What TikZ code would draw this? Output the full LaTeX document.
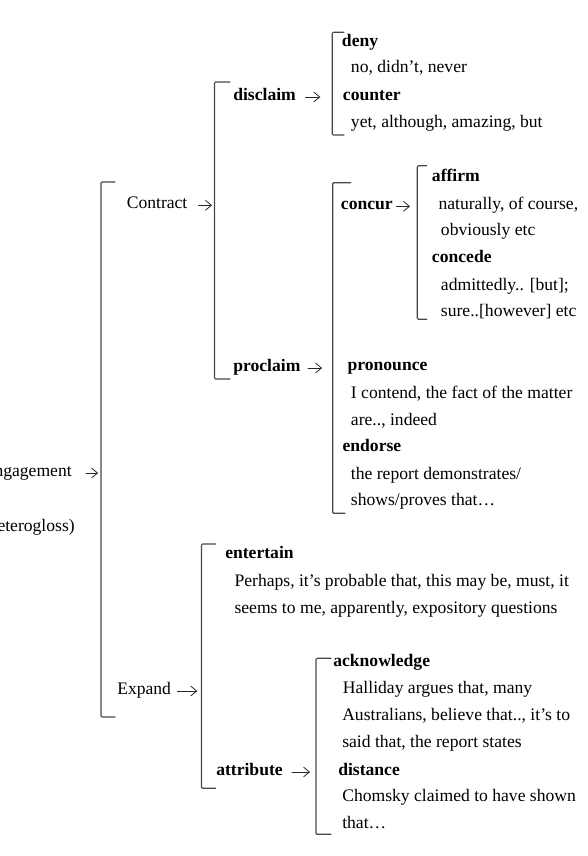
\documentclass[tikz,border=0pt]{standalone}
\usepackage{fontspec}
\setmainfont{Liberation Serif}
\usepackage{tikz}
\usetikzlibrary{arrows.meta}
\tikzset{
  every picture/.append style={line cap=round,line join=round},
  sys bracket/.style={black!72,line width=0.85pt,rounded corners=0.8pt},
  sys text/.style={inner sep=0pt,anchor=base west,text height=7pt,text depth=2.5pt,font=\fontsize{13.2pt}{20pt}\selectfont},
  sys term/.style={sys text,font=\fontsize{13.2pt}{20pt}\selectfont\bfseries},
  sys arrow/.style={black!85,line width=0.6pt,-{Straight Barb[length=4.4pt,width=7.4pt]}}
}
\begin{document}
\begin{tikzpicture}[x=0.75pt,y=-0.75pt]
\useasboundingbox (0,0) rectangle (587,856);
\coordinate (eng top) at (101,182);   \coordinate (eng bot) at (101,717);
\coordinate (con top) at (214.5,82);  \coordinate (con bot) at (214.5,379);
\coordinate (dis top) at (332.3,32.3);\coordinate (dis bot) at (332.3,135);
\coordinate (pro top) at (332.7,182.7);\coordinate (pro bot) at (332.7,513.3);
\coordinate (ccr top) at (417.3,165.7);\coordinate (ccr bot) at (417.3,319.3);
\coordinate (exp top) at (201.5,544); \coordinate (exp bot) at (201.5,788.3);
\coordinate (att top) at (316,658.3); \coordinate (att bot) at (316,834.3);
\draw[sys bracket] (115,182) -- (eng top) -- (eng bot) -- (115,717);
\draw[sys bracket] (230,82) -- (con top) -- (con bot) -- (230,379);
\draw[sys bracket] (344,32.3) -- (dis top) -- (dis bot) -- (344,135);
\draw[sys bracket] (350.7,182.7) -- (pro top) -- (pro bot) -- (345,513.3);
\draw[sys bracket] (426.7,165.7) -- (ccr top) -- (ccr bot) -- (426.7,319.3);
\draw[sys bracket] (215.7,544) -- (exp top) -- (exp bot) -- (215.7,788.3);
\draw[sys bracket] (331,658.3) -- (att top) -- (att bot) -- (331,834.3);

\node[sys text,anchor=base east] (engagement) at (72,476) {Engagement};
\node[sys text,anchor=base east] (heterogloss) at (75,531) {(heterogloss)};
\node[sys text] (contract) at (126.5,208.3) {Contract};
\node[sys text] (expand) at (117,694) {Expand};

\node[sys term] (disclaim) at (233,100) {disclaim};
\node[sys term] (proclaim) at (233,371) {proclaim};
\node[sys term] (entertain) at (225,558.7) {entertain};
\node[sys term] (attribute) at (216,775) {attribute};

\node[sys term] (deny) at (341.7,46.7) {deny};
\node[sys text] (deny ex) at (350.7,72.5) {no, didn’t, never};
\node[sys term] (counter) at (342.7,100) {counter};
\node[sys text] (counter ex) at (350.7,127) {yet, although, amazing, but};

\node[sys term] (concur) at (340.7,209.3) {concur};
\node[sys term] (affirm) at (431.7,181.7) {affirm};
\node[sys text] (affirm ex a) at (438.3,209.3) {naturally, of course,};
\node[sys text] (affirm ex b) at (440.7,235.5) {obviously etc};
\node[sys term] (concede) at (431.7,262.7) {concede};
\node[sys text] (concede ex a) at (440.7,290) {admittedly.. [but];};
\node[sys text] (concede ex b) at (440.7,316) {sure..[however] etc};

\node[sys term] (pronounce) at (347.3,370.7) {pronounce};
\node[sys text] (pronounce ex a) at (350.7,398.3) {I contend, the fact of the matter};
\node[sys text] (pronounce ex b) at (350.7,425) {are.., indeed};
\node[sys term] (endorse) at (342.3,451.7) {endorse};
\node[sys text] (endorse ex a) at (350.7,479.3) {the report demonstrates/};
\node[sys text] (endorse ex b) at (350.7,505) {shows/proves that…};

\node[sys text] (entertain ex a) at (234.3,586.3) {Perhaps, it’s probable that, this may be, must, it};
\node[sys text] (entertain ex b) at (234.3,613) {seems to me, apparently, expository questions};

\node[sys term] (acknowledge) at (333,666.7) {acknowledge};
\node[sys text] (acknowledge ex a) at (342.7,693.3) {Halliday argues that, many};
\node[sys text] (acknowledge ex b) at (342,720) {Australians, believe that.., it’s to};
\node[sys text] (acknowledge ex c) at (342,747.3) {said that, the report states};
\node[sys term] (distance) at (338,775) {distance};
\node[sys text] (distance ex a) at (342,801.7) {Chomsky claimed to have shown};
\node[sys text] (distance ex b) at (342,828.3) {that…};

\draw[sys arrow,shorten <=10.5pt,shorten >=2.2pt] (engagement.east) -- (engagement.east -| eng top);
\draw[sys arrow,shorten <=8.2pt,shorten >=1.9pt] (contract.east) -- (contract.east -| con top);
\draw[sys arrow,shorten <=4.5pt,shorten >=3.2pt] (expand.east) -- (expand.east -| exp top);
\draw[sys arrow,shorten <=7pt,shorten >=9pt] (disclaim.east) -- (disclaim.east -| dis top);
\draw[sys arrow,shorten <=5.6pt,shorten >=8pt] (proclaim.east) -- (proclaim.east -| pro top);
\draw[sys arrow,shorten <=2.6pt,shorten >=5.5pt] (concur.east) -- (concur.east -| ccr top);
\draw[sys arrow,shorten <=6.7pt,shorten >=4.5pt] (attribute.east) -- (attribute.east -| att top);
\end{tikzpicture}
\end{document}
